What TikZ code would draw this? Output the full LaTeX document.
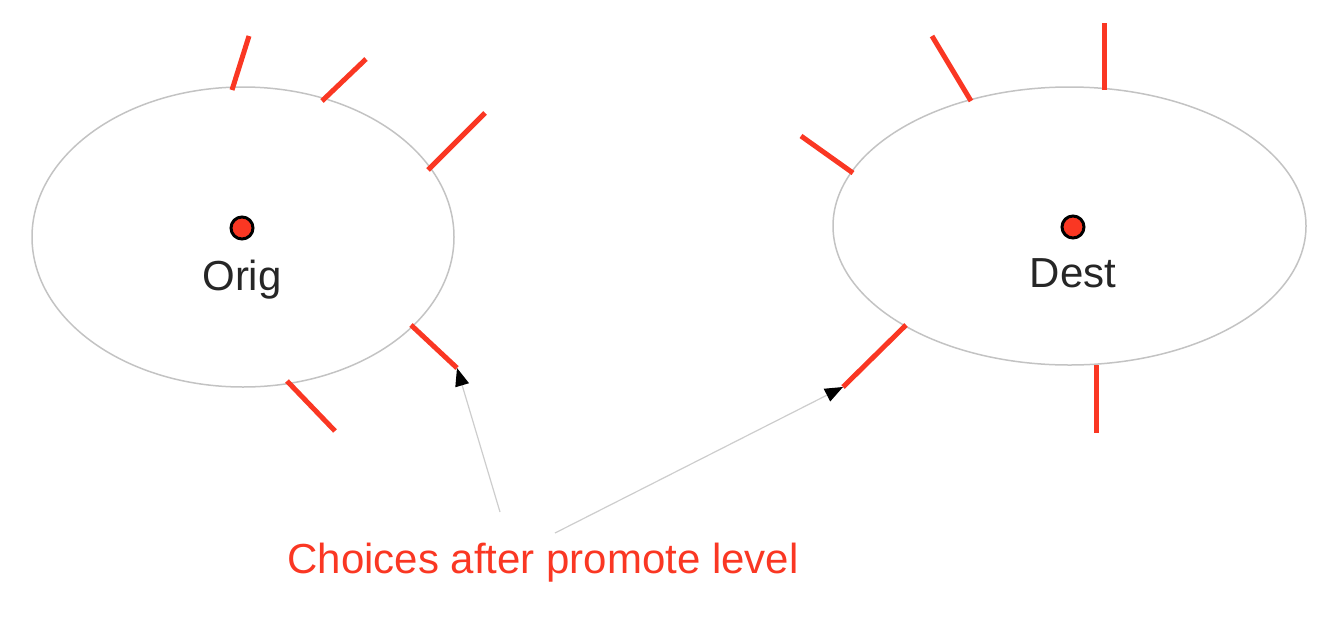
\documentclass[tikz,border=0pt]{standalone}
\usepackage{fontspec}
\setmainfont{Liberation Sans}
\usetikzlibrary{shapes.geometric,arrows.meta}
\definecolor{tickred}{RGB}{250,55,35}
\definecolor{ringgray}{RGB}{195,195,195}
\definecolor{pointgray}{RGB}{205,205,205}
\begin{document}
\begin{tikzpicture}[x=0.5pt,y=-0.5pt,
  ring/.style={ellipse,draw=ringgray,line width=0.75pt,inner sep=0pt},
  centre/.style={circle,fill=tickred,draw=black,line width=1.5pt,minimum size=11pt,inner sep=0pt},
  lbl/.style={font=\fontsize{21}{25}\selectfont,text=black!85},
  tick/.style={draw=tickred,line width=2.5pt},
  pointer/.style={draw=pointgray,line width=0.6pt,-{Triangle[length=9pt,width=7pt,color=black,fill=black]}},
  note/.style={font=\fontsize{21}{25}\selectfont,text=tickred}]
\useasboundingbox (0,0) rectangle (1343,616);
\node[ring,minimum width=211pt,minimum height=150pt] (orig) at (243,237) {};
\node[ring,minimum width=236.5pt,minimum height=139pt] (dest) at (1069.5,226) {};
\node[centre] (odot) at (242,228) {};
\node[centre] (ddot) at (1073,227) {};
\node[lbl] (olbl) at (242,280) {Orig};
\node[lbl] (dlbl) at (1073,273) {Dest};
% ticks on Orig
\coordinate (o1a) at (232,90);  \coordinate (o1b) at (249,36);
\coordinate (o2a) at (322,101); \coordinate (o2b) at (366,59);
\coordinate (o3a) at (428,170); \coordinate (o3b) at (485,113);
\coordinate (o4a) at (411,325); \coordinate (o4b) at (457,368);
\coordinate (o5a) at (287,381); \coordinate (o5b) at (335,431);
\draw[tick] (o1a) -- (o1b);
\draw[tick] (o2a) -- (o2b);
\draw[tick] (o3a) -- (o3b);
\draw[tick] (o4a) -- (o4b);
\draw[tick] (o5a) -- (o5b);
% ticks on Dest
\coordinate (d1a) at (971,101);  \coordinate (d1b) at (932,36);
\coordinate (d2a) at (1104,90);  \coordinate (d2b) at (1104,23);
\coordinate (d3a) at (853,173);  \coordinate (d3b) at (801,136);
\coordinate (d4a) at (906,325);  \coordinate (d4b) at (843,387);
\coordinate (d5a) at (1096,365); \coordinate (d5b) at (1096,433);
\draw[tick] (d1a) -- (d1b);
\draw[tick] (d2a) -- (d2b);
\draw[tick] (d3a) -- (d3b);
\draw[tick] (d4a) -- (d4b);
\draw[tick] (d5a) -- (d5b);
% note and pointers
\node[note] (note) at (543,563) {Choices after promote level};
\coordinate (s1) at (500,512);
\coordinate (s2) at (555,533);
\draw[pointer] (s1) -- (o4b);
\draw[pointer] (s2) -- (d4b);
\end{tikzpicture}
\end{document}
